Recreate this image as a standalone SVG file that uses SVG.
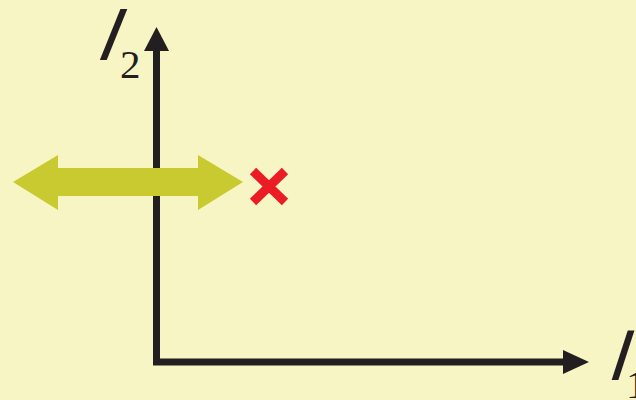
<svg xmlns="http://www.w3.org/2000/svg" width="636" height="400" viewBox="0 0 636 400">
<style>
.axis{fill:none;stroke:#231f20;stroke-width:7;stroke-linejoin:miter}
.head{fill:#231f20}
.lbl{font-family:"Liberation Sans",Arial,sans-serif;fill:#231f20}
.sub{font-family:"Liberation Serif","Times New Roman",serif;fill:#231f20}
</style>
<rect width="636" height="400" fill="#f8f5c4"/>
<g id="connectors">
<polyline class="axis" points="156.5,50 156.5,362 566,362"/>
<polygon class="head" points="156.5,27 144,51 169,51"/>
<polygon class="head" points="589,362 563,350 563,374"/>
</g>
<g id="label-I2">
<text class="lbl" x="0" y="0" font-size="74" transform="translate(93,60) skewX(-22)">I</text>
<text class="sub" x="120" y="78" font-size="41">2</text>
</g>
<g id="label-I1">
<text class="lbl" x="0" y="0" font-size="72" transform="translate(605,380) skewX(-18)">I</text>
<text class="sub" x="626" y="398" font-size="41">1</text>
</g>
<g id="double-arrow">
<polygon fill="#c9ca2f" points="13,182 58,155 58,168 198,168 198,155 243,182 198,210 198,196 58,196 58,210"/>
</g>
<g id="cross">
<path d="M253,171 L285,202 M285,171 L253,202" stroke="#ec1c24" stroke-width="9" fill="none"/>
</g>
</svg>
